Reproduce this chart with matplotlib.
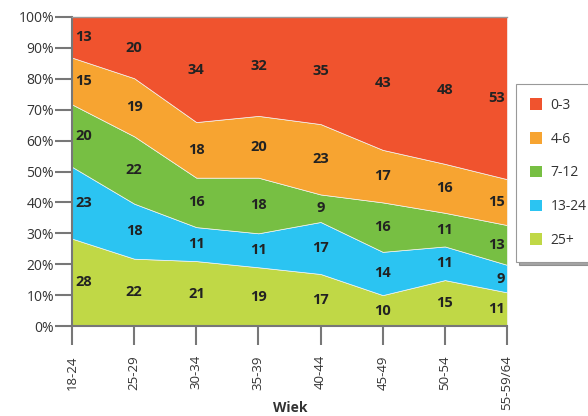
import numpy as np
import matplotlib.pyplot as plt
from matplotlib.patches import Patch

# age groups on x axis
wiek = ['18-24', '25-29', '30-34', '35-39', '40-44', '45-49', '50-54', '55-59/64']

# shares per group (bottom to top)
s_25 = [28, 22, 21, 19, 17, 10, 15, 11]
s_13_24 = [23, 18, 11, 11, 17, 14, 11, 9]
s_7_12 = [20, 22, 16, 18, 9, 16, 11, 13]
s_4_6 = [15, 19, 18, 20, 23, 17, 16, 15]
s_0_3 = [13, 20, 34, 32, 35, 43, 48, 53]

series = ['25+', '13-24', '7-12', '4-6', '0-3']
colors = ['#c0d846', '#2bc4f2', '#77bf43', '#f7a431', '#f0532e']

plt.rcParams['font.family'] = ['Open Sans', 'DejaVu Sans']

data = np.array([s_25, s_13_24, s_7_12, s_4_6, s_0_3], dtype=float)
pct = data / data.sum(axis=0) * 100
x = np.arange(len(wiek))

fig = plt.figure(figsize=(5.88, 4.16), dpi=100)
ax = fig.add_axes([72/588, 1 - 326/416, 435/588, 309/416])

ax.stackplot(x, pct, colors=colors, edgecolor='#f4f4f4', linewidth=0.5)

# value labels in the middle of each band
cum = np.cumsum(pct, axis=0)
for i in range(len(series)):
    for j in range(len(wiek)):
        mid = cum[i, j] - pct[i, j] / 2
        if j == 0:
            ha, xx = 'left', x[j] + 0.05
        elif j == len(wiek) - 1:
            ha, xx = 'right', x[j] - 0.03
        else:
            ha, xx = 'center', x[j]
        ax.text(xx, mid, '%d' % data[i, j], ha=ha, va='center',
                fontsize=10.5, fontweight='bold', color='#222222')

ax.set_xlim(0, len(wiek) - 1)
ax.set_ylim(0, 100)
ax.set_yticks(range(0, 101, 10))
ax.set_yticklabels(['%d%%' % v for v in range(0, 101, 10)], fontsize=10, color='#333333')
ax.set_xticks(x)
ax.set_xticklabels(wiek, rotation=90, fontsize=9.5, color='#333333')
ax.tick_params(axis='y', length=12, width=1.5, color='#777777', pad=1)
ax.tick_params(axis='x', length=14, width=1.5, color='#777777', pad=7)
for s in ['left', 'bottom']:
    ax.spines[s].set_color('#777777')
    ax.spines[s].set_linewidth(1.5)
ax.spines['top'].set_color('#999999')
ax.spines['top'].set_linewidth(1.0)
ax.spines['right'].set_visible(False)
fig.text(290/588, 1 - 408/416, 'Wiek', ha='center', va='center',
         fontsize=10, fontweight='bold', color='#333333')

handles = [Patch(facecolor=c, edgecolor='none') for c in colors[::-1]]
leg = fig.legend(handles, series[::-1], loc='upper left',
                 bbox_to_anchor=(516/588, 1 - 84/416), fontsize=10,
                 frameon=True, fancybox=False, shadow=True, labelspacing=1.35,
                 handlelength=0.9, handleheight=0.9, handletextpad=0.6,
                 borderpad=1.0, borderaxespad=0)
leg.get_frame().set_edgecolor('#999999')
leg.get_frame().set_linewidth(0.8)
for t in leg.get_texts():
    t.set_color('#333333')

fig.savefig('out.png', dpi=100)
